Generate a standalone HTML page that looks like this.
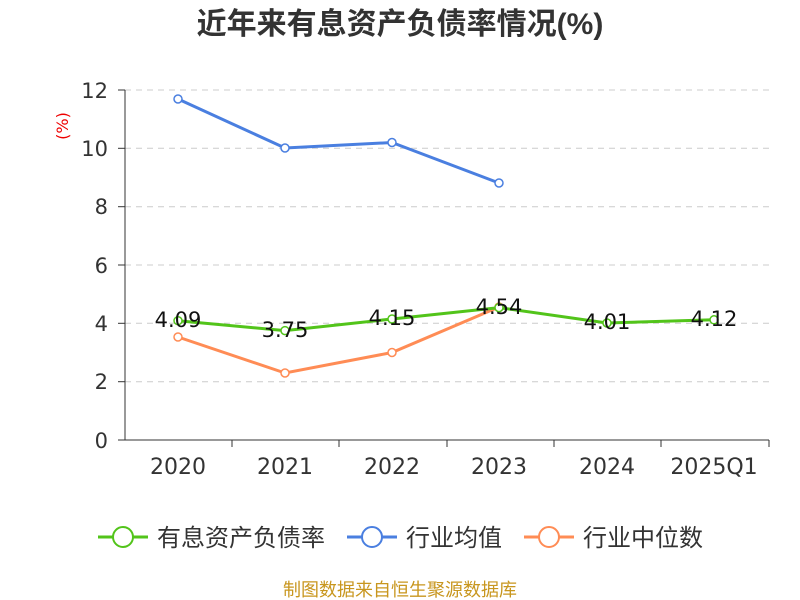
<!DOCTYPE html>
<html><head><meta charset="utf-8"><style>
body{margin:0;background:#fff;}
svg{display:block;font-family:"DejaVu Sans","Noto Sans CJK SC",sans-serif;}
</style></head><body>
<svg width="800" height="600" viewBox="0 0 800 600">
<text x="400" y="34" text-anchor="middle" font-size="30" font-weight="bold" fill="#333" font-family="Liberation Sans, Noto Sans CJK SC, sans-serif">近年来有息资产负债率情况(%)</text>
<text x="68" y="126" font-size="16" fill="#e00" transform="rotate(-90 68 126)" text-anchor="middle">(%)</text>
<g stroke="#ccc" stroke-dasharray="6,5" stroke-width="1">
<line x1="125" x2="769" y1="90" y2="90"/><line x1="125" x2="769" y1="148.3" y2="148.3"/>
<line x1="125" x2="769" y1="206.7" y2="206.7"/><line x1="125" x2="769" y1="265" y2="265"/>
<line x1="125" x2="769" y1="323.3" y2="323.3"/><line x1="125" x2="769" y1="381.7" y2="381.7"/>
</g>
<g stroke="#333" stroke-width="1">
<line x1="125" x2="125" y1="90" y2="440"/>
<line x1="125" x2="769" y1="440" y2="440"/>
<line x1="118" x2="125" y1="90" y2="90"/><line x1="118" x2="125" y1="148.3" y2="148.3"/>
<line x1="118" x2="125" y1="206.7" y2="206.7"/><line x1="118" x2="125" y1="265" y2="265"/>
<line x1="118" x2="125" y1="323.3" y2="323.3"/><line x1="118" x2="125" y1="381.7" y2="381.7"/>
<line x1="118" x2="125" y1="440" y2="440"/>
<line x1="232" x2="232" y1="440" y2="447"/><line x1="339" x2="339" y1="440" y2="447"/>
<line x1="447" x2="447" y1="440" y2="447"/><line x1="554" x2="554" y1="440" y2="447"/>
<line x1="661" x2="661" y1="440" y2="447"/><line x1="769" x2="769" y1="440" y2="447"/>
</g>
<g font-size="21" fill="#333" text-anchor="end">
<text x="108" y="98">12</text><text x="108" y="156">10</text><text x="108" y="214">8</text>
<text x="108" y="273">6</text><text x="108" y="331">4</text><text x="108" y="389">2</text><text x="108" y="448">0</text>
</g>
<g font-size="22" fill="#333" text-anchor="middle">
<text x="178" y="474">2020</text><text x="285" y="474">2021</text><text x="392" y="474">2022</text>
<text x="499" y="474">2023</text><text x="607" y="474">2024</text><text x="714" y="474">2025Q1</text>
</g>
<polyline fill="none" stroke="#4a7fe0" stroke-width="3" points="178,99 285,148 392,142.5 499,183"/>
<polyline fill="none" stroke="#ff8c55" stroke-width="3" points="178,337 285,373 392,352.5 499,307"/>
<polyline fill="none" stroke="#52c41a" stroke-width="3" points="178,320.7 285,330.6 392,319 499,307.6 607,323 714,319.8"/>
<g fill="#fff" stroke-width="1.5">
<g stroke="#4a7fe0"><circle cx="178" cy="99" r="4"/><circle cx="285" cy="148" r="4"/><circle cx="392" cy="142.5" r="4"/><circle cx="499" cy="183" r="4"/></g>
<g stroke="#ff8c55"><circle cx="178" cy="337" r="4"/><circle cx="285" cy="373" r="4"/><circle cx="392" cy="352.5" r="4"/><circle cx="499" cy="307" r="4"/></g>
<g stroke="#52c41a"><circle cx="178" cy="320.7" r="4"/><circle cx="285" cy="330.6" r="4"/><circle cx="392" cy="319" r="4"/><circle cx="499" cy="307.6" r="4"/><circle cx="607" cy="323" r="4"/><circle cx="714" cy="319.8" r="4"/></g>
</g>
<g font-size="21" fill="#111" text-anchor="middle">
<text x="178" y="327">4.09</text><text x="285" y="337">3.75</text><text x="392" y="325">4.15</text>
<text x="499" y="314">4.54</text><text x="607" y="329">4.01</text><text x="714" y="326">4.12</text>
</g>
<g font-size="24" fill="#333">
<line x1="98" x2="148" y1="537" y2="537" stroke="#52c41a" stroke-width="3"/><circle cx="123" cy="537" r="10" fill="#fff" stroke="#52c41a" stroke-width="2"/>
<text x="157" y="546">有息资产负债率</text>
<line x1="347" x2="397" y1="537" y2="537" stroke="#4a7fe0" stroke-width="3"/><circle cx="372" cy="537" r="10" fill="#fff" stroke="#4a7fe0" stroke-width="2"/>
<text x="406" y="546">行业均值</text>
<line x1="524" x2="574" y1="537" y2="537" stroke="#ff8c55" stroke-width="3"/><circle cx="549" cy="537" r="10" fill="#fff" stroke="#ff8c55" stroke-width="2"/>
<text x="583" y="546">行业中位数</text>
</g>
<text x="400" y="596" text-anchor="middle" font-size="18" fill="#c8961e">制图数据来自恒生聚源数据库</text>
</svg>
</body></html>
